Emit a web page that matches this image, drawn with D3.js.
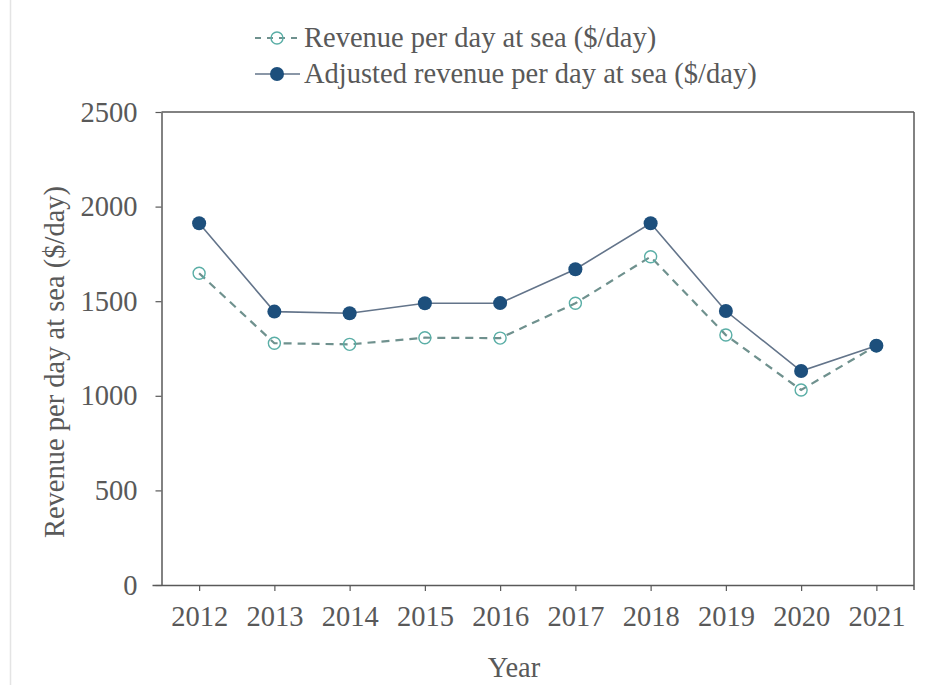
<!DOCTYPE html>
<html><head><meta charset="utf-8">
<script src="https://cdn.jsdelivr.net/npm/d3@7"></script>
<style>body{margin:0;background:#fff}svg{display:block}</style>
</head><body>
<script>
const years = ["2012","2013","2014","2015","2016","2017","2018","2019","2020","2021"];
const revenue = [1648,1278,1272,1307,1305,1489,1735,1321,1031,1265];
const adjusted = [1912,1445,1436,1489,1490,1669,1912,1448,1131,1265];
const yTicks = [0,500,1000,1500,2000,2500];
const seriesNames = ["Revenue per day at sea ($/day)","Adjusted revenue per day at sea ($/day)"];

const W = 948, H = 685;
const m = {left:161.5, right:914, top:112, bottom:585};
const svg = d3.select("body").append("svg").attr("width",W).attr("height",H);
const font = "'Liberation Serif','Times New Roman',serif";
const txt = "#595959";
const fs = "28.5px";

svg.append("line").attr("x1",10.5).attr("x2",10.5).attr("y1",0).attr("y2",H)
  .attr("stroke","#e4e4e4").attr("stroke-width",1.5);

const x = d3.scalePoint().domain(years).range([m.left,m.right]).padding(0.5);
const y = d3.scaleLinear().domain([0,2500]).range([m.bottom,m.top]);

// frame top & right
svg.append("line").attr("x1",m.left).attr("x2",m.right).attr("y1",m.top).attr("y2",m.top)
  .attr("stroke","#595959").attr("stroke-width",1.5);
svg.append("line").attr("x1",m.right).attr("x2",m.right).attr("y1",m.top).attr("y2",m.bottom+5)
  .attr("stroke","#595959").attr("stroke-width",1.5);

const xAxis = svg.append("g").attr("transform",`translate(0,${m.bottom})`)
  .call(d3.axisBottom(x).tickSize(6).tickSizeOuter(0).tickPadding(15));
xAxis.select(".domain").attr("d",`M${m.left-9},0.5H${m.right}`);
const yAxis = svg.append("g").attr("transform",`translate(${m.left},0)`)
  .call(d3.axisLeft(y).tickValues(yTicks).tickFormat(d3.format("d")).tickSize(6).tickSizeOuter(0).tickPadding(18));
[xAxis,yAxis].forEach(g=>{
  g.selectAll(".domain").attr("stroke","#595959").attr("stroke-width",1.5);
  g.selectAll(".tick line").attr("stroke","#595959").attr("stroke-width",1.2);
  g.selectAll("text").attr("fill",txt).style("font-family",font).style("font-size",fs);
});

// axis titles
svg.append("text").attr("x",514).attr("y",677).attr("text-anchor","middle")
  .attr("fill",txt).style("font-family",font).style("font-size",fs).text("Year");
svg.append("text").attr("transform","translate(64,362) rotate(-90)").attr("text-anchor","middle")
  .attr("fill",txt).style("font-family",font).style("font-size",fs).text(seriesNames[0]);

const revData = years.map((yr,i)=>({yr,v:revenue[i]}));
const adjData = years.map((yr,i)=>({yr,v:adjusted[i]}));
const line = d3.line().x(d=>x(d.yr)).y(d=>y(d.v));

const darkC = "#1d4f7c", lineC = "#63748a", tealC = "#5aaea6", dashC = "#6f918e";

svg.append("path").datum(revData).attr("d",line).attr("fill","none")
  .attr("stroke",dashC).attr("stroke-width",2.2).attr("stroke-dasharray","8,6");
svg.append("path").datum(adjData).attr("d",line).attr("fill","none")
  .attr("stroke",lineC).attr("stroke-width",1.6);
svg.selectAll(".rev").data(revData).enter().append("circle")
  .attr("cx",d=>x(d.yr)).attr("cy",d=>y(d.v)).attr("r",6)
  .attr("fill","none").attr("stroke",tealC).attr("stroke-width",1.4);
svg.selectAll(".adj").data(adjData).enter().append("circle")
  .attr("cx",d=>x(d.yr)).attr("cy",d=>y(d.v)).attr("r",7)
  .attr("fill",darkC);

// legend
const lg = svg.append("g");
const rows = [{name:seriesNames[0],dash:true},{name:seriesNames[1],dash:false}];
rows.forEach((r,i)=>{
  const cy = 38 + i*36;
  lg.append("line").attr("x1",255).attr("x2",300).attr("y1",cy).attr("y2",cy)
    .attr("stroke",r.dash?dashC:lineC).attr("stroke-width",r.dash?2.2:1.6)
    .attr("stroke-dasharray",r.dash?"6,6":null);
  if(r.dash) lg.append("circle").attr("cx",277).attr("cy",cy).attr("r",6)
    .attr("fill","none").attr("stroke",tealC).attr("stroke-width",1.4);
  else lg.append("circle").attr("cx",277).attr("cy",cy).attr("r",7).attr("fill",darkC);
  lg.append("text").attr("x",304).attr("y",cy).attr("dy","0.33em")
    .attr("fill",txt).style("font-family",font).style("font-size",fs).text(r.name);
});
</script>
</body></html>
